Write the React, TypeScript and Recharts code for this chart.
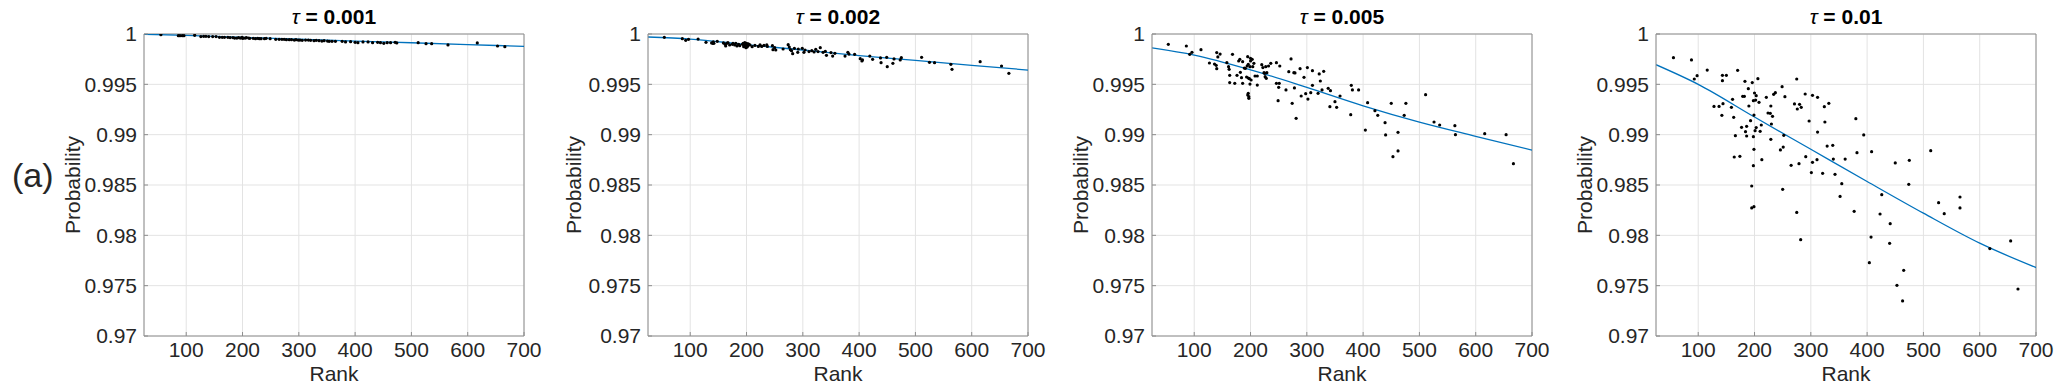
import { ComposedChart, Scatter, Line, XAxis, YAxis, CartesianGrid, ReferenceLine } from "recharts";

type Pt = [number, number];

const rankTicks = [100, 200, 300, 400, 500, 600, 700];
const probTicks = [0.97, 0.975, 0.98, 0.985, 0.99, 0.995, 1];
const tauLabels = ["0.001", "0.002", "0.005", "0.01"];

// [rank, probability]
const pointsTau001: Pt[] = [
  [55, 0.99993], [86, 0.99983], [89, 0.99983], [93, 0.99983], [96, 0.99983], [115, 0.99987], [126, 0.99974], [131, 0.99977],
  [135, 0.99977], [140, 0.99974], [147, 0.99974], [153, 0.99974], [159, 0.99967], [164, 0.99967], [168, 0.99967], [174, 0.99967],
  [178, 0.99964], [183, 0.99964], [186, 0.9996], [190, 0.9996], [193, 0.99964], [196, 0.9996], [199, 0.99967], [200, 0.99957],
  [202, 0.9996], [205, 0.9996], [207, 0.99964], [211, 0.9996], [213, 0.99957], [219, 0.99957], [223, 0.99954], [227, 0.99957],
  [230, 0.99954], [233, 0.99954], [239, 0.99954], [242, 0.99957], [249, 0.99954], [259, 0.99947], [265, 0.99947], [270, 0.99947],
  [274, 0.99947], [278, 0.99944], [283, 0.99944], [287, 0.99944], [292, 0.9994], [295, 0.99944], [299, 0.9994], [302, 0.9994],
  [306, 0.99937], [312, 0.9994], [317, 0.9994], [321, 0.99937], [327, 0.99934], [331, 0.99937], [336, 0.99934], [341, 0.9993],
  [345, 0.99934], [351, 0.9993], [354, 0.99927], [359, 0.99927], [365, 0.99927], [377, 0.99927], [383, 0.99921], [392, 0.99924],
  [400, 0.99917], [405, 0.99914], [414, 0.99921], [423, 0.99921], [431, 0.99914], [440, 0.99917], [445, 0.99914], [451, 0.99907],
  [457, 0.99914], [463, 0.99914], [471, 0.99917], [474, 0.99911], [512, 0.99914], [526, 0.99904], [536, 0.99904], [565, 0.99891],
  [617, 0.99911], [653, 0.99881], [666, 0.99874],
];

const pointsTau002: Pt[] = [
  [54, 0.99967], [86, 0.99954], [92, 0.99937], [97, 0.99947], [114, 0.9995], [128, 0.99917], [138, 0.99911], [140, 0.99907],
  [141, 0.99921], [142, 0.99907], [148, 0.99927], [159, 0.99911], [162, 0.99897], [163, 0.99881], [165, 0.99907], [167, 0.99914],
  [170, 0.99891], [175, 0.99897], [176, 0.99907], [179, 0.99891], [181, 0.99907], [183, 0.99881], [186, 0.99897], [188, 0.99884],
  [193, 0.99897], [194, 0.99907], [195, 0.99874], [196, 0.99887], [197, 0.99914], [198, 0.99877], [199, 0.99864], [199, 0.99894],
  [200, 0.99907], [201, 0.99871], [202, 0.99881], [203, 0.99901], [204, 0.99897], [206, 0.99891], [210, 0.99874], [215, 0.99887],
  [221, 0.99877], [224, 0.99891], [227, 0.99877], [231, 0.99887], [236, 0.99891], [237, 0.99877], [246, 0.99884], [247, 0.99844],
  [250, 0.99864], [252, 0.99841], [265, 0.99851], [274, 0.99894], [276, 0.99871], [278, 0.99844], [280, 0.99834], [282, 0.99805],
  [285, 0.99858], [291, 0.99818], [292, 0.99851], [299, 0.99858], [302, 0.99818], [304, 0.99841], [311, 0.99825], [316, 0.99834],
  [320, 0.99821], [323, 0.99848], [327, 0.99825], [331, 0.99864], [336, 0.99818], [340, 0.99828], [342, 0.99788], [350, 0.99815],
  [353, 0.99781], [357, 0.99808], [375, 0.99781], [380, 0.99818], [382, 0.99801], [392, 0.99798], [402, 0.99755], [405, 0.99732],
  [406, 0.99742], [419, 0.99781], [424, 0.99748], [438, 0.99762], [439, 0.99715], [449, 0.99768], [450, 0.99675], [460, 0.99709],
  [462, 0.99752], [473, 0.99742], [475, 0.99765], [511, 0.99768], [525, 0.99719], [534, 0.99715], [563, 0.99699], [565, 0.99649],
  [615, 0.99725], [653, 0.99682], [666, 0.99609],
];

const pointsTau005: Pt[] = [
  [54, 0.99897], [86, 0.99881], [92, 0.99798], [96, 0.99818], [112, 0.99844], [127, 0.99712], [136, 0.99702], [139, 0.99689],
  [140, 0.99656], [140, 0.99815], [142, 0.99772], [146, 0.99801], [158, 0.99715], [161, 0.99675], [162, 0.99649], [163, 0.99589],
  [163, 0.99517], [168, 0.99798], [172, 0.9951], [176, 0.99589], [179, 0.99732], [181, 0.99748], [182, 0.99619], [184, 0.99566],
  [186, 0.99725], [186, 0.9951], [189, 0.99662], [191, 0.99659], [193, 0.99573], [194, 0.99682], [195, 0.99775], [195, 0.99394],
  [196, 0.99411], [196, 0.99563], [196, 0.99699], [197, 0.99377], [197, 0.99361], [198, 0.99556], [199, 0.99503], [199, 0.99675],
  [200, 0.99758], [200, 0.99732], [201, 0.99543], [203, 0.99748], [204, 0.99675], [206, 0.99709], [208, 0.99583], [212, 0.99583],
  [212, 0.99493], [220, 0.99695], [222, 0.99666], [224, 0.99616], [225, 0.99609], [226, 0.99576], [227, 0.99675], [228, 0.9956],
  [229, 0.99616], [232, 0.99682], [236, 0.99709], [246, 0.99715], [246, 0.9951], [249, 0.99338], [250, 0.9947], [251, 0.9951],
  [252, 0.99682], [263, 0.99444], [268, 0.99626], [272, 0.99752], [274, 0.99311], [277, 0.99616], [278, 0.99464], [279, 0.99613],
  [281, 0.99162], [288, 0.99656], [290, 0.99384], [295, 0.9957], [298, 0.99407], [301, 0.99666], [302, 0.99354], [307, 0.99417],
  [310, 0.99636], [310, 0.9949], [320, 0.99411], [322, 0.99603], [324, 0.99533], [327, 0.99444], [330, 0.99629], [338, 0.9946],
  [341, 0.99278], [342, 0.99437], [350, 0.99328], [353, 0.99272], [359, 0.99384], [378, 0.99199], [379, 0.9949], [381, 0.99444],
  [392, 0.99444], [404, 0.99046], [408, 0.99318], [421, 0.99238], [426, 0.99192], [439, 0.99119], [440, 0.98997], [450, 0.99311],
  [453, 0.98781], [462, 0.98838], [462, 0.99023], [473, 0.99192], [476, 0.99311], [511, 0.99397], [526, 0.99126], [536, 0.99096],
  [563, 0.99089], [564, 0.99], [616, 0.9901], [654, 0.99], [667, 0.98712],
];

const pointsTau01: Pt[] = [
  [56, 0.99765], [88, 0.99742], [93, 0.99553], [98, 0.99586], [116, 0.99642], [128, 0.99281], [137, 0.99281], [142, 0.99192],
  [143, 0.99589], [143, 0.99536], [144, 0.99308], [150, 0.99589], [159, 0.99272], [161, 0.99351], [163, 0.99172], [164, 0.98778],
  [166, 0.9899], [170, 0.99639], [174, 0.98785], [177, 0.99073], [179, 0.99381], [182, 0.99381], [183, 0.9953], [184, 0.9903],
  [186, 0.99083], [186, 0.98987], [189, 0.99457], [190, 0.99285], [193, 0.99139], [195, 0.9849], [195, 0.98272], [196, 0.99517],
  [198, 0.99338], [198, 0.9898], [198, 0.98692], [199, 0.98285], [199, 0.98854], [199, 0.99195], [200, 0.99414], [201, 0.9904],
  [202, 0.99344], [203, 0.99387], [203, 0.9907], [206, 0.99556], [208, 0.99321], [210, 0.99033], [212, 0.99096], [213, 0.98752],
  [221, 0.99371], [224, 0.99215], [228, 0.99212], [229, 0.98954], [229, 0.99285], [230, 0.99106], [232, 0.99182], [234, 0.99401],
  [237, 0.99417], [246, 0.98848], [249, 0.99477], [250, 0.98457], [251, 0.98877], [252, 0.98993], [254, 0.99377], [265, 0.98695],
  [271, 0.99305], [275, 0.99553], [275, 0.98228], [276, 0.99255], [279, 0.98712], [280, 0.99301], [283, 0.99272], [282, 0.97957],
  [290, 0.99404], [291, 0.98781], [297, 0.99136], [301, 0.98623], [303, 0.99391], [303, 0.98725], [311, 0.98752], [312, 0.99026],
  [312, 0.99371], [321, 0.98616], [324, 0.99278], [325, 0.99126], [329, 0.98887], [332, 0.99311], [339, 0.98894], [340, 0.98758],
  [343, 0.98606], [352, 0.98387], [355, 0.98513], [361, 0.98758], [377, 0.98238], [380, 0.99159], [382, 0.98821], [394, 0.98997],
  [404, 0.97728], [407, 0.97983], [408, 0.98831], [423, 0.98212], [426, 0.98404], [440, 0.97921], [441, 0.98116], [450, 0.98719],
  [453, 0.97503], [463, 0.97348], [465, 0.97652], [474, 0.98507], [475, 0.98745], [513, 0.98841], [527, 0.98324], [537, 0.98215],
  [565, 0.98381], [565, 0.98272], [618, 0.97868], [655, 0.97944], [668, 0.97467],
];

// fitted curve, read at the grid columns
const fitTau001: Pt[] = [[25, 0.99997], [100, 0.99987], [200, 0.99967], [300, 0.99948], [400, 0.9993], [500, 0.99913], [600, 0.99895], [700, 0.99877]];
const fitTau002: Pt[] = [[25, 0.9997], [100, 0.9995], [200, 0.99894], [300, 0.99841], [400, 0.99785], [500, 0.99738], [600, 0.99689], [700, 0.99642]];
const fitTau005: Pt[] = [[25, 0.99862], [100, 0.99791], [200, 0.99644], [300, 0.9947], [400, 0.99287], [500, 0.99125], [600, 0.98984], [700, 0.98846]];
const fitTau01: Pt[] = [[25, 0.99695], [100, 0.995], [200, 0.99175], [300, 0.98855], [400, 0.98535], [500, 0.9822], [600, 0.97922], [700, 0.9768]];

const FONT = '"Liberation Sans", Arial, Helvetica, sans-serif';
const AXIS = "#8e8e8e";
const INK = "#262626";
const PLOT_L = 144;
const PLOT_T = 34;
const PLOT_W = 380;
const PLOT_H = 302;
const SVG_W = 560;

const fmtProb = (v: number) => String(Number(v.toFixed(3)));

const Dot = (props: any) => <circle cx={props.cx} cy={props.cy} r={1.6} fill="#000" />;

interface PanelProps {
  tau: string;
  points: Pt[];
  fit: Pt[];
  labelGap: number;
}

const Panel = ({ tau, points, fit, labelGap }: PanelProps) => {
  const pts = points.map(([r, p]) => ({ r, p }));
  const line = fit.map(([r, p]) => ({ r, p }));
  const cx = PLOT_L + PLOT_W / 2;
  const cy = PLOT_T + PLOT_H / 2;
  const ylx = PLOT_L - labelGap;

  return (
    <ComposedChart
      width={SVG_W}
      height={392}
      margin={{ top: PLOT_T, right: SVG_W - PLOT_L - PLOT_W, bottom: 16, left: PLOT_L - 60 }}
      style={{ fontFamily: FONT }}
    >
      <CartesianGrid stroke="#e3e3e3" />
      <XAxis
        type="number"
        dataKey="r"
        domain={[25, 700]}
        ticks={rankTicks}
        allowDataOverflow
        height={40}
        stroke={AXIS}
        tickSize={-4}
        tickMargin={10}
        tick={{ fill: INK, fontSize: 21 }}
        label={{
          content: () => (
            <g>
              <text x={cx} y={PLOT_T + PLOT_H + 45} textAnchor="middle" fontSize={21} fill={INK} fontFamily={FONT}>
                Rank
              </text>
              <text x={cx} y={24} textAnchor="middle" fontSize={21} fill="#000" fontFamily={FONT}>
                <tspan fontStyle="italic">τ</tspan>
                <tspan fontWeight="bold"> = {tau}</tspan>
              </text>
            </g>
          ),
        }}
      />
      <YAxis
        type="number"
        dataKey="p"
        domain={[0.97, 1]}
        ticks={probTicks}
        allowDataOverflow
        width={60}
        stroke={AXIS}
        tickSize={-4}
        tickMargin={11}
        tickFormatter={fmtProb}
        tick={{ fill: INK, fontSize: 21 }}
        label={{
          content: () => (
            <text
              x={ylx}
              y={cy}
              transform={`rotate(-90 ${ylx} ${cy})`}
              textAnchor="middle"
              dominantBaseline="central"
              fontSize={21}
              fill={INK}
              fontFamily={FONT}
            >
              Probability
            </text>
          ),
        }}
      />
      <ReferenceLine y={1} stroke={AXIS} ifOverflow="visible" />
      <ReferenceLine x={700} stroke={AXIS} ifOverflow="visible" />
      <Scatter data={pts} dataKey="p" shape={Dot} isAnimationActive={false} />
      <Line
        data={line}
        dataKey="p"
        type="monotone"
        stroke="#0072BD"
        strokeWidth={1.3}
        dot={false}
        activeDot={false}
        isAnimationActive={false}
      />
    </ComposedChart>
  );
};

const panels = [
  { points: pointsTau001, fit: fitTau001, labelGap: 72 },
  { points: pointsTau002, fit: fitTau002, labelGap: 75 },
  { points: pointsTau005, fit: fitTau005, labelGap: 72 },
  { points: pointsTau01, fit: fitTau01, labelGap: 72 },
];

export default function App() {
  return (
    <div style={{ position: "absolute", left: 0, top: 0, width: 2058, height: 392, overflow: "hidden", background: "#fff" }}>
      {panels.map((pn, i) => (
        <div key={i} style={{ position: "absolute", left: i * 504, top: 0 }}>
          <Panel tau={tauLabels[i]} points={pn.points} fit={pn.fit} labelGap={pn.labelGap} />
        </div>
      ))}
      <div
        style={{
          position: "absolute",
          left: 12,
          top: 155,
          fontFamily: FONT,
          fontSize: 34,
          lineHeight: "40px",
          color: INK,
        }}
      >
        (a)
      </div>
    </div>
  );
}
